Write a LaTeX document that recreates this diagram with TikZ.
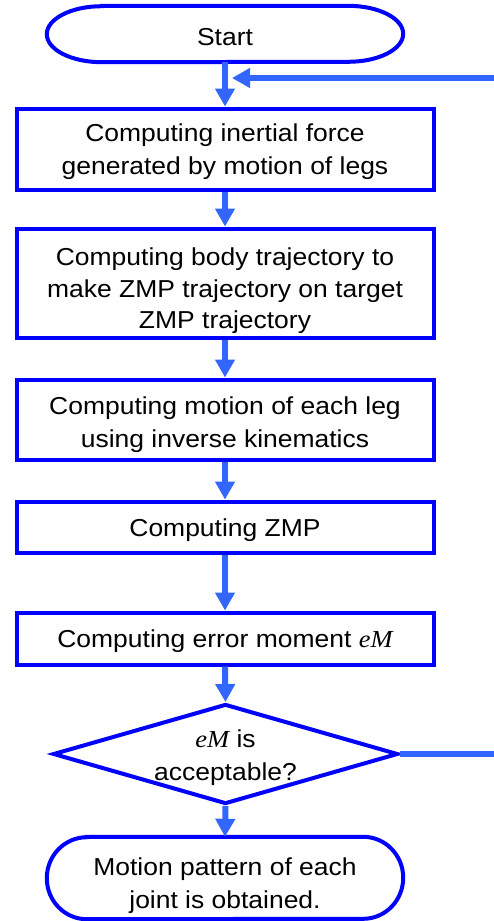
\documentclass[tikz,border=0pt]{standalone}
\usepackage{fontspec}
\setmainfont{Liberation Sans}[FakeStretch=1.08]
\newfontfamily\tms{Liberation Serif}[FakeStretch=1.08]
\usetikzlibrary{arrows.meta,shapes.geometric}
\definecolor{bbord}{RGB}{0,0,255}
\definecolor{aclr}{RGB}{51,102,255}
\newcommand{\eMsym}{{\tms\itshape eM}}
% text lines lowered by #1 without changing the box extents
\newcommand{\txtlines}[2]{\raisebox{-#1}[\height][\depth]{\begin{tabular}{@{}c@{}}#2\end{tabular}}}
\begin{document}
\begin{tikzpicture}[x=1pt,y=1pt,
  txt/.style={font=\fontsize{24.5}{33}\selectfont, align=center, inner sep=0pt},
  box/.style={txt, draw=bbord, line width=4pt, minimum width=417pt},
  term/.style={draw=bbord, line width=4pt},
  arr/.style={draw=aclr, line width=6pt, -{Triangle[width=19pt,length=18pt]}},
  fline/.style={draw=aclr, line width=6pt}]
\useasboundingbox (0,0) rectangle (494,-921);
% terminators (text nodes, outline drawn separately)
\node[txt, minimum width=356pt, minimum height=56pt] (start) at (225,-34) {\txtlines{4.5pt}{Start}};
\draw[term] ([xshift=55pt]start.north west) -- ([xshift=-55pt]start.north east)
  arc[start angle=90, end angle=-90, x radius=55pt, y radius=28pt]
  -- ([xshift=55pt]start.south west)
  arc[start angle=270, end angle=90, x radius=55pt, y radius=28pt] -- cycle;
\node[box, minimum height=81pt] (b1) at (225,-149) {\txtlines{2.6pt}{Computing inertial force\\generated by motion of legs}};
\node[box, minimum height=109pt] (b2) at (225,-283) {\txtlines{7.4pt}{Computing body trajectory to\\[-1.3pt]make ZMP trajectory on target\\[-1.3pt]ZMP trajectory}};
\node[box, minimum height=80pt] (b3) at (225,-419.5) {\txtlines{4.4pt}{Computing motion of each leg\\using inverse kinematics}};
\node[box, minimum height=51pt] (b4) at (225,-527) {\txtlines{3.1pt}{Computing ZMP}};
\node[box, minimum height=52pt] (b5) at (225,-638.5) {\txtlines{2.2pt}{Computing error moment \eMsym}};
\node[shape=diamond, draw=bbord, line width=4pt, inner sep=0pt, minimum width=345pt, minimum height=100pt] (dia) at (225.5,-754) {};
\node[txt] (diatxt) at (dia.center) {\txtlines{3.2pt}{\eMsym\ is\\acceptable?}};
\node[txt, minimum width=356pt, minimum height=82pt] (end) at (225,-878) {\txtlines{6.9pt}{Motion pattern of each\\joint is obtained.}};
\draw[term] ([xshift=40pt]end.north west) -- ([xshift=-40pt]end.north east)
  arc[start angle=90, end angle=-90, x radius=40pt, y radius=41pt]
  -- ([xshift=40pt]end.south west)
  arc[start angle=270, end angle=90, x radius=40pt, y radius=41pt] -- cycle;
% connectors
\coordinate (fbin) at (494,-78);
\coordinate (join) at (232,-78);
\coordinate (fbout) at (494,-754);
\draw[arr] (start.south) -- (b1.north);
\draw[arr] (fbin) -- (join);
\draw[arr] (b1.south) -- (b2.north);
\draw[arr] (b2.south) -- (b3.north);
\draw[arr] (b3.south) -- (b4.north);
\draw[arr] (b4.south) -- (b5.north);
\draw[arr] (b5.south) -- (dia.north);
\draw[arr] (dia.south) -- (end.north);
\draw[fline] (dia.east) -- (fbout);
\end{tikzpicture}
\end{document}
